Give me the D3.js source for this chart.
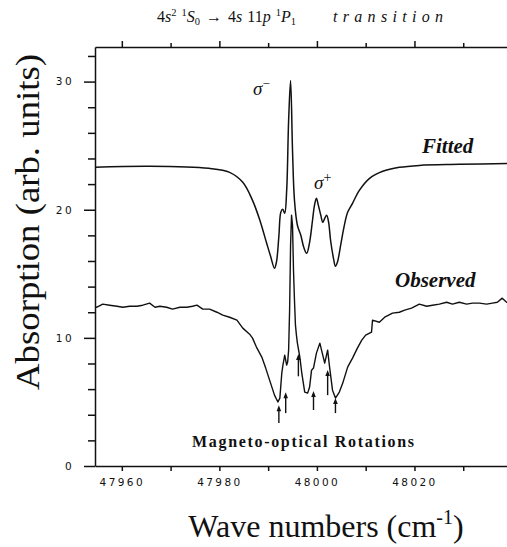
<!DOCTYPE html>
<html>
<head>
<meta charset="utf-8">
<script src="https://cdn.jsdelivr.net/npm/d3@7"></script>
<style>
  body { margin: 0; background: #fff; }
  svg { display: block; }
  .axis path, .axis line { stroke: #111; stroke-width: 1.5; }
  .axis text { font-family: "DejaVu Sans", sans-serif; font-size: 10.5px; fill: #111; letter-spacing: 2.4px; }
</style>
</head>
<body>
<div id="chart"></div>
<script>
// fitted curve (wave number, absorption)
var fitWave = [47954.5, 47965.7, 47977.8, 47982.1, 47984.8, 47986.8, 47988.3, 47989.7, 47990.5, 47991.3,
  47991.7, 47992.2, 47992.6, 47993.0, 47993.4, 47993.8, 47994.2, 47994.6, 47995.0, 47995.4,
  47996.0, 47996.7, 47997.3, 47997.9, 47998.5, 47999.1, 47999.5, 47999.9, 48000.3, 48000.8,
  48001.2, 48001.6, 48002.0, 48002.4, 48002.8, 48003.4, 48003.8, 48004.2, 48004.9, 48005.5,
  48006.3, 48007.3, 48008.7, 48010.8, 48013.5, 48016.9, 48021.0, 48029.2, 48039.9];
var fitAbs = [23.31, 23.39, 23.23, 22.92, 22.14, 20.73, 19.18, 17.38, 16.37, 15.43,
  15.90, 17.93, 19.80, 20.03, 19.72, 21.51, 26.97, 30.09, 24.63, 20.73,
  18.79, 18.01, 17.07, 16.60, 17.46, 19.18, 20.34, 20.89, 20.34, 19.57,
  19.02, 19.33, 19.57, 19.02, 17.62, 16.21, 15.59, 15.90, 17.30, 18.55,
  19.80, 20.50, 21.51, 22.45, 23.00, 23.31, 23.46, 23.54, 23.62];

// observed spectrum
var obsWave = [47954.5, 47954.9, 47956.1, 47957.5, 47959.0, 47960.2, 47961.6, 47963.1, 47964.3, 47965.7,
  47966.8, 47967.8, 47969.2, 47970.4, 47971.9, 47973.3, 47974.5, 47975.4, 47976.6, 47978.0,
  47979.5, 47980.7, 47982.1, 47983.6, 47984.8, 47986.2, 47986.8, 47987.6, 47988.7, 47989.5,
  47990.3, 47991.3, 47992.0, 47992.4, 47992.8, 47993.0, 47993.4, 47993.8, 47994.0, 47994.2,
  47994.4, 47994.6, 47994.8, 47995.0, 47995.2, 47995.4, 47995.6, 47995.8, 47996.0, 47996.5,
  47996.9, 47997.5, 47998.1, 47998.5, 47998.9, 47999.3, 47999.9, 48000.6, 48001.2, 48001.6,
  48002.2, 48002.6, 48003.2, 48003.8, 48004.6, 48005.3, 48006.3, 48007.3, 48008.3, 48009.2,
  48010.0, 48011.2, 48011.4, 48012.8, 48013.9, 48015.5, 48016.9, 48018.0, 48019.4, 48021.0,
  48022.5, 48023.7, 48025.1, 48026.6, 48027.8, 48029.2, 48030.7, 48031.9, 48033.3, 48034.8,
  48036.0, 48037.0, 48038.0, 48038.9, 48039.9];
var obsAbs = [12.39, 12.39, 12.63, 12.55, 12.47, 12.39, 12.47, 12.47, 12.55, 12.71,
  12.39, 12.47, 12.39, 12.24, 12.39, 12.39, 12.47, 12.55, 12.24, 12.24,
  12.00, 11.77, 11.61, 11.38, 10.76, 10.29, 9.98, 9.28, 8.50, 7.64,
  6.70, 5.53, 4.99, 5.30, 7.25, 7.80, 8.65, 7.87, 8.11, 9.04,
  12.16, 17.23, 19.57, 18.79, 15.28, 12.94, 10.99, 10.21, 9.59, 8.50,
  7.25, 5.77, 5.69, 6.16, 7.48, 7.64, 8.81, 9.59, 8.65, 8.03,
  9.04, 7.72, 5.92, 5.30, 5.77, 6.47, 7.72, 8.42, 9.20, 9.82,
  10.21, 10.45, 11.38, 11.22, 11.61, 11.93, 12.00, 12.16, 12.32, 12.63,
  12.47, 12.55, 12.63, 12.78, 12.63, 12.78, 12.63, 12.71, 12.71, 12.63,
  12.71, 12.78, 13.10, 12.78, 12.94];

// magneto-optical rotation markers
var arrowWave = [47992.2, 47993.6, 47996.2, 47999.3, 48002.2, 48003.8];
var arrowTip  = [4.75, 5.75, 8.75, 5.85, 7.5, 5.3];
var arrowTail = [3.35, 4.13, 7.0, 4.37, 5.53, 4.13];

var xTicks = [47960, 47970, 47980, 47990, 48000, 48010, 48020, 48030];
var yTicks = [0, 2, 4, 6, 8, 10, 12, 14, 16, 18, 20, 22, 24, 26, 28, 30, 32];

var W = 507, H = 547;
var plotL = 95, plotR = 512, plotT = 47, plotB = 466;

var svg = d3.select('#chart').append('svg')
  .attr('width', W).attr('height', H);

var x = d3.scaleLinear().domain([47954.5, 48040]).range([plotL, plotR]);
var y = d3.scaleLinear().domain([0, 32.7]).range([plotB, plotT]);

// axes
svg.append('g').attr('class', 'axis')
  .attr('transform', 'translate(0,' + plotB + ')')
  .call(d3.axisBottom(x).tickValues(xTicks).tickSize(5).tickSizeOuter(0).tickPadding(8)
    .tickFormat(function(d) { return d % 20 === 0 ? d : ''; }));

var gt = svg.append('g').attr('class', 'axis')
  .attr('transform', 'translate(0,' + plotT + ')')
  .call(d3.axisTop(x).tickValues(xTicks).tickSize(4).tickSizeOuter(0).tickFormat(''));
gt.selectAll('.tick line').attr('y2', function(d) { return d % 20 === 0 ? -6 : -4; });

var gy = svg.append('g').attr('class', 'axis')
  .attr('transform', 'translate(' + plotL + ',0)')
  .call(d3.axisLeft(y).tickValues(yTicks).tickSize(7).tickSizeOuter(0).tickPadding(14)
    .tickFormat(function(d) { return d % 10 === 0 ? d : ''; }));
gy.selectAll('.tick line').attr('x2', function(d) { return d % 10 === 0 ? -11 : -7; });

// curves
var line = d3.line()
  .x(function(d) { return x(d[0]); })
  .y(function(d) { return y(d[1]); });

svg.append('path')
  .datum(d3.zip(fitWave, fitAbs))
  .attr('fill', 'none').attr('stroke', '#111').attr('stroke-width', 1.5)
  .attr('d', line.curve(d3.curveCatmullRom.alpha(0.5)));

svg.append('path')
  .datum(d3.zip(obsWave, obsAbs))
  .attr('fill', 'none').attr('stroke', '#111').attr('stroke-width', 1.4)
  .attr('stroke-linejoin', 'round')
  .attr('d', line.curve(d3.curveLinear));

// arrows
var arrows = svg.append('g').selectAll('g')
  .data(d3.zip(arrowWave, arrowTip, arrowTail)).enter()
  .append('g');
arrows.append('line')
  .attr('x1', function(d) { return x(d[0]); })
  .attr('x2', function(d) { return x(d[0]); })
  .attr('y1', function(d) { return y(d[1]) + 3; })
  .attr('y2', function(d) { return y(d[2]); })
  .attr('stroke', '#111').attr('stroke-width', 1.4);
arrows.append('path')
  .attr('fill', '#111')
  .attr('d', function(d) {
    var px = x(d[0]), py = y(d[1]);
    return 'M' + px + ',' + py + 'L' + (px - 2.3) + ',' + (py + 6) + 'L' + (px + 2.3) + ',' + (py + 6) + 'Z';
  });

// labels
var serif = '"Liberation Serif", "Times New Roman", serif';

var title = svg.append('text')
  .attr('x', 157).attr('y', 22)
  .attr('font-family', serif).attr('font-size', 16).attr('fill', '#111');
title.append('tspan').text('4');
title.append('tspan').attr('font-style', 'italic').text('s');
title.append('tspan').attr('font-size', 10.5).attr('dy', -6).text('2');
title.append('tspan').attr('font-size', 10.5).attr('dx', 5).text('1');
title.append('tspan').attr('font-style', 'italic').attr('dy', 6).text('S');
title.append('tspan').attr('font-size', 10.5).attr('dy', 3).text('0');
title.append('tspan').attr('dy', -3).attr('dx', 6).text('\u2192');
title.append('tspan').attr('dx', 6).text('4');
title.append('tspan').attr('font-style', 'italic').text('s');
title.append('tspan').attr('dx', 5).text('11');
title.append('tspan').attr('font-style', 'italic').text('p');
title.append('tspan').attr('font-size', 10.5).attr('dy', -6).attr('dx', 5).text('1');
title.append('tspan').attr('font-style', 'italic').attr('dy', 6).text('P');
title.append('tspan').attr('font-size', 10.5).attr('dy', 3).text('1');

svg.append('text')
  .attr('x', 333).attr('y', 22)
  .attr('font-family', serif).attr('font-size', 16).attr('font-style', 'italic')
  .attr('textLength', 110).attr('lengthAdjust', 'spacing')
  .attr('fill', '#111').text('transition');

svg.append('text')
  .attr('transform', 'translate(39,' + 222 + ') rotate(-90)')
  .attr('text-anchor', 'middle')
  .attr('font-family', serif).attr('font-size', 33).attr('fill', '#111')
  .attr('textLength', 336).attr('lengthAdjust', 'spacingAndGlyphs')
  .text('Absorption (arb. units)');

var xl = svg.append('text')
  .attr('x', 326).attr('y', 537)
  .attr('text-anchor', 'middle')
  .attr('font-family', serif).attr('font-size', 32).attr('fill', '#111');
xl.append('tspan').text('Wave numbers (cm');
xl.append('tspan').attr('font-size', 20).attr('dy', -13).text('-1');
xl.append('tspan').attr('dy', 13).text(')');

svg.append('text')
  .attr('x', 303).attr('y', 447)
  .attr('text-anchor', 'middle')
  .attr('font-family', serif).attr('font-size', 16).attr('font-weight', 'bold')
  .attr('textLength', 222).attr('lengthAdjust', 'spacing')
  .attr('fill', '#111').text('Magneto-optical Rotations');

svg.append('text')
  .attr('x', 422).attr('y', 153)
  .attr('font-family', serif).attr('font-size', 21).attr('font-weight', 'bold')
  .attr('font-style', 'italic').attr('fill', '#111').text('Fitted');

svg.append('text')
  .attr('x', 395).attr('y', 287)
  .attr('font-family', serif).attr('font-size', 21).attr('font-weight', 'bold')
  .attr('font-style', 'italic').attr('fill', '#111').text('Observed');

var sm = svg.append('text')
  .attr('x', 253).attr('y', 95)
  .attr('font-family', serif).attr('font-size', 19).attr('font-style', 'italic').attr('fill', '#111');
sm.append('tspan').text('\u03c3');
sm.append('tspan').attr('font-size', 13).attr('dy', -7).attr('font-style', 'normal').text('\u2212');

var sp = svg.append('text')
  .attr('x', 314).attr('y', 189)
  .attr('font-family', serif).attr('font-size', 19).attr('font-style', 'italic').attr('fill', '#111');
sp.append('tspan').text('\u03c3');
sp.append('tspan').attr('font-size', 14).attr('dy', -7).attr('font-style', 'normal').text('+');
</script>
</body>
</html>
